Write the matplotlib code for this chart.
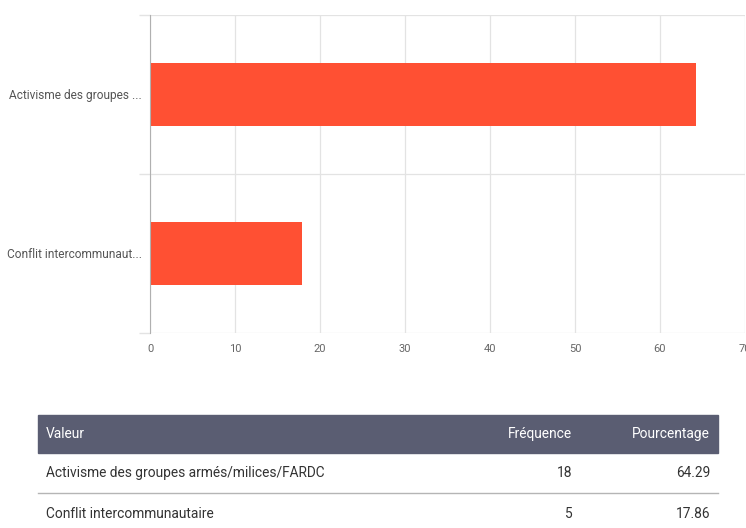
import matplotlib
matplotlib.use("Agg")
import matplotlib.pyplot as plt
from matplotlib.patches import Rectangle
from matplotlib.lines import Line2D

# data
short_labels = ["Conflit intercommunaut...", "Activisme des groupes ..."]
full_labels = ["Activisme des groupes armés/milices/FARDC", "Conflit intercommunautaire"]
frequencies = [18, 5]
percentages = [64.29, 17.86]
plot_values = [17.86, 64.29]
x_ticks = [0, 10, 20, 30, 40, 50, 60, 70]
header = ["Valeur", "Fréquence", "Pourcentage"]

W, H = 746, 528
BAR_COLOR = "#ff5033"
GRID = "#e3e3e3"

plt.rcParams["font.family"] = ["Roboto", "DejaVu Sans"]
fig = plt.figure(figsize=(W / 100, H / 100), dpi=100)


def fx(px):
    return px / W


def fy(py):
    return 1 - py / H


ax = fig.add_axes([fx(150), fy(333), fx(745) - fx(150), fy(15) - fy(333)])
ypos = list(range(len(short_labels)))
ax.barh(ypos, plot_values, height=0.4, color=BAR_COLOR, zorder=3)
ax.set_xlim(0, 70)
ax.set_ylim(-0.5, 1.5)
ax.set_xticks(x_ticks)
ax.set_xticklabels([str(t) for t in x_ticks], fontsize=8, color="#666666")
ax.set_yticks(ypos)
ax.set_yticklabels(short_labels, fontsize=8.6, color="#555555")
ax.set_yticks([-0.5, 0.5, 1.5], minor=True)
ax.tick_params(axis="y", which="major", length=0, pad=6)
ax.tick_params(axis="y", which="minor", length=8, color=GRID, width=1)
ax.tick_params(axis="x", length=0, pad=8)
ax.grid(axis="x", color=GRID, linewidth=0.9, zorder=0)
ax.grid(axis="y", which="minor", color=GRID, linewidth=0.9, zorder=0)
for side in ["top", "right", "bottom"]:
    ax.spines[side].set_visible(False)
ax.spines["left"].set_color("#b0b0b0")
ax.spines["left"].set_zorder(4)

# table
left, right = 38, 718
fs = 9.9
fig.patches.append(Rectangle((fx(left), fy(453)), fx(right) - fx(left), fy(415) - fy(453),
                             transform=fig.transFigure, color="#5a5d72", zorder=0))
hy = fy(434)
fig.text(fx(46), hy, header[0], color="white", fontsize=fs, va="center", ha="left")
fig.text(fx(572), hy, header[1], color="white", fontsize=fs, va="center", ha="right")
fig.text(fx(710), hy, header[2], color="white", fontsize=fs, va="center", ha="right")

row_y = [473, 514]
for i, (lab, fr, pc) in enumerate(zip(full_labels, frequencies, percentages)):
    y = fy(row_y[i])
    fig.text(fx(46), y, lab, color="#333333", fontsize=fs, va="center", ha="left")
    fig.text(fx(572), y, str(fr), color="#333333", fontsize=fs, va="center", ha="right")
    fig.text(fx(710), y, f"{pc:.2f}", color="#333333", fontsize=fs, va="center", ha="right")
fig.lines.append(Line2D([fx(left), fx(right)], [fy(493), fy(493)], transform=fig.transFigure,
                        color="#b5b5b5", linewidth=1))

fig.savefig("out.png", dpi=100)
